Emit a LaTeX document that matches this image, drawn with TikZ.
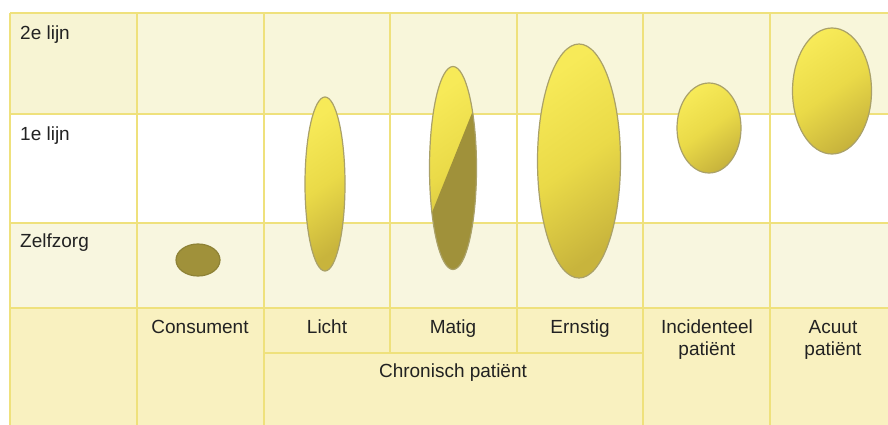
\documentclass[tikz,border=0pt]{standalone}
\usepackage{fontspec}
\setmainfont{Liberation Sans}
\usetikzlibrary{shapes.geometric, calc}
\definecolor{rowtop}{HTML}{F8F6DA}
\definecolor{rowtopl}{HTML}{F7F4D3}
\definecolor{rowself}{HTML}{F8F6DF}
\definecolor{rowbot}{HTML}{F9F1C0}
\definecolor{gridln}{HTML}{EFE17C}
\definecolor{goldlt}{HTML}{F7EA58}
\definecolor{goldmd}{HTML}{EADA48}
\definecolor{golddk}{HTML}{C8B43C}
\definecolor{olive}{HTML}{A0913A}
\definecolor{olivedk}{HTML}{8E8236}
\definecolor{txt}{HTML}{222222}

\begin{document}
\begin{tikzpicture}[
    x=1pt, y=-1pt,
    gridline/.style={draw=gridln, line width=1.2pt},
    rowlabel/.style={font=\fontsize{19}{22}\selectfont, text=txt, anchor=base west, inner sep=0pt},
    collabel/.style={font=\fontsize{19}{22}\selectfont, text=txt, anchor=base, inner sep=0pt, align=center},
    blob/.style={ellipse, draw=olivedk!75, line width=1.2pt, inner sep=0pt,
                 top color=goldlt, bottom color=golddk, middle color=goldmd, shading angle=35},
]
\useasboundingbox (0,0) rectangle (888,425);

% Row backgrounds
\fill[rowtop] (10,13) rectangle (888,114);
\fill[rowtopl] (10,13) rectangle (137,114);
\fill[white] (10,114) rectangle (888,223);
\fill[rowself] (10,223) rectangle (888,308);
\fill[rowbot] (10,308) rectangle (888,425);

% Grid
\foreach \y in {13,114,223,308}
  \draw[gridline] (10,\y) -- (888,\y);
\draw[gridline] (264,353) -- (643,353);
\foreach \x in {10,137,264,643,770}
  \draw[gridline] (\x,13) -- (\x,425);
\foreach \x in {390,517}
  \draw[gridline] (\x,13) -- (\x,353);

% Row labels
\node[rowlabel] (lijn2) at (20,40) {2e lijn};
\node[rowlabel] (lijn1) at (20,140) {1e lijn};
\node[rowlabel] (zelf) at (20,247) {Zelfzorg};

% Column labels
\node[collabel] (consument) at (200,333) {Consument};
\node[collabel] (licht) at (327,333) {Licht};
\node[collabel] (matig) at (453,333) {Matig};
\node[collabel] (ernstig) at (580,333) {Ernstig};
\node[collabel] (chronisch) at (453,377) {Chronisch patiënt};
\node[collabel] (incident) at (707,355) {Incidenteel\\patiënt};
\node[collabel] (acuut) at (833,355) {Acuut\\patiënt};

% Ellipses
\node[ellipse, draw=olivedk, line width=1.2pt, fill=olive, minimum width=44pt, minimum height=32pt] (bconsument) at (198,260) {};
\node[blob, minimum width=40pt, minimum height=174pt] (blicht) at (325,184) {};
\node[blob, minimum width=47pt, minimum height=203pt,
      path picture={\fill[olive]
        ($(path picture bounding box.center)+(38.5,-103.5)$) --
        ($(path picture bounding box.center)+(-59,139)$) --
        ($(path picture bounding box.center)+(67,139)$) --
        ($(path picture bounding box.center)+(67,-104)$) -- cycle;}] (bmatig) at (453,168) {};
\node[blob, minimum width=83pt, minimum height=234pt] (bernstig) at (579,161) {};
\node[blob, minimum width=64pt, minimum height=90pt] (bincident) at (709,128) {};
\node[blob, minimum width=79pt, minimum height=126pt] (bacuut) at (832,91) {};

\end{tikzpicture}
\end{document}
